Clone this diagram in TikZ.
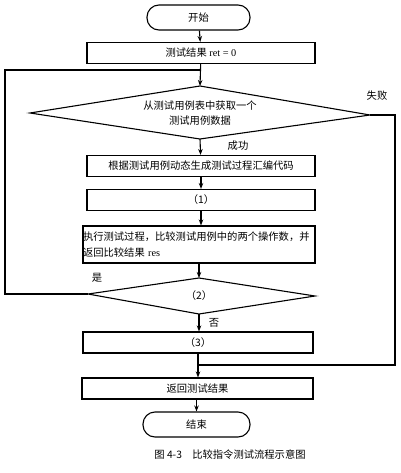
\documentclass[tikz,border=0pt]{standalone}
\usepackage{fontspec}
\setmainfont{Liberation Serif}
\newfontfamily\cjk{Noto Sans CJK SC}
\usetikzlibrary{arrows.meta}
\begin{document}
\begin{tikzpicture}[x=1pt,y=-1pt,
  line width=1.1pt,
  box/.style={draw,minimum width=228pt,minimum height=21pt,inner sep=0pt,font=\fontsize{10.3}{12}\selectfont},
  term/.style={draw,rounded corners=12pt,minimum width=103pt,minimum height=25pt,inner sep=0pt,font=\fontsize{10.3}{12}\selectfont},
  lbl/.style={font=\cjk\fontsize{10.3}{12}\selectfont,inner sep=0pt},
  arr/.style={-{Stealth[length=6pt,width=4.5pt]}}]
\useasboundingbox (0,0) rectangle (400,473);
\node[term] (start) at (198.5,17.5) {\cjk 开始};
\node[box] (init) at (201,53) {{\cjk 测试结果} ret = 0};
\coordinate (d1t) at (200,86);
\coordinate (d1b) at (200,139);
\coordinate (d1l) at (30,113);
\coordinate (d1r) at (370,115);
\draw (d1t) -- (d1r) -- (d1b) -- (d1l) -- cycle;
\node[lbl,align=center,font=\cjk\fontsize{10.3}{15}\selectfont] (d1) at (200,113) {从测试用例表中获取一个\\测试用例数据};
\node[box] (gen) at (201,166) {\cjk 根据测试用例动态生成测试过程汇编代码};
\node[box] (s1) at (201,200) {\cjk （1）};
\node[box,minimum width=232pt,minimum height=37pt,text width=232pt,align=left,font=\cjk\fontsize{10.3}{16}\selectfont] (exec) at (199,244.5) {执行测试过程，比较测试用例中的两个操作数，并\\返回比较结果 {\rmfamily res}};
\coordinate (d2t) at (199,278);
\coordinate (d2b) at (199,314);
\coordinate (d2l) at (88,294);
\coordinate (d2r) at (315,296);
\draw (d2t) -- (d2r) -- (d2b) -- (d2l) -- cycle;
\node[lbl] (d2) at (199,296) {（2）};
\node[box,minimum width=230pt] (s3) at (198,342.5) {\cjk （3）};
\coordinate (join) at (198,365);
\node[box,minimum width=231pt] (ret) at (197.5,388.5) {\cjk 返回测试结果};
\node[term,minimum width=107pt] (end) at (196.5,424.5) {\cjk 结束};
\node[lbl] (cap) at (230,455) {图 4-3\quad 比较指令测试流程示意图};
% connectors
\draw[arr] (start) -- (init);
\draw[arr] (init) -- (d1t);
\draw[arr] (d1b) -- (gen);
\draw[arr] (gen) -- (s1);
\draw[arr] (s1) -- (exec.north -| s1);
\draw[arr] (exec.south -| d2t) -- (d2t);
\draw[arr] (d2b) -- (d2b |- s3.north);
\draw (s3.south -| join) -- (join);
\draw[arr] (join) -- (join |- ret.north);
\draw[arr] (ret.south -| end) -- (end);
% loop back (yes)
\coordinate (lt) at (5,70);
\coordinate (lb) at (5,294);
\draw (d2l) -- (lb) -- (lt) -- (200,70);
% fail path
\coordinate (rt) at (395,115);
\coordinate (rb) at (395,365);
\draw (d1r) -- (rt) -- (rb) -- (join);
% labels
\node[lbl] (fail) at (377,96) {失败};
\node[lbl] (ok) at (238,146) {成功};
\node[lbl] (yes) at (97,278) {是};
\node[lbl] (no) at (214,323) {否};
\end{tikzpicture}
\end{document}
